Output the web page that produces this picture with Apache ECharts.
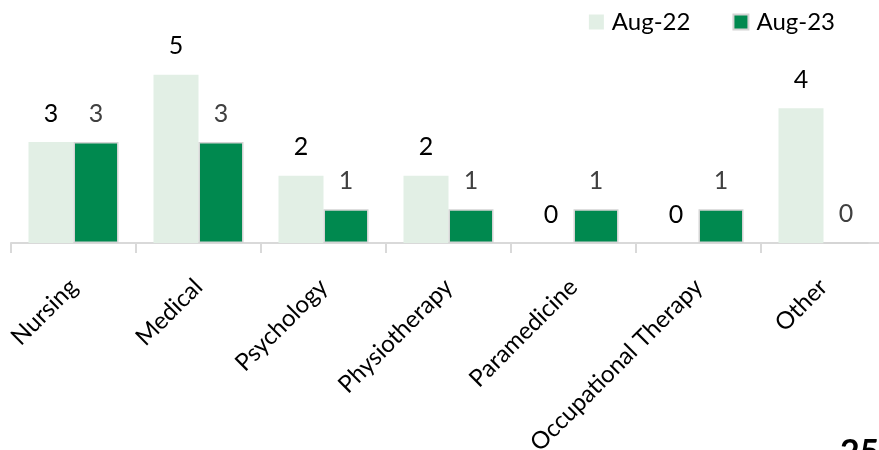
<!DOCTYPE html>
<html><head><meta charset="utf-8">
<script src="https://cdn.jsdelivr.net/npm/echarts@6/dist/echarts.min.js"></script>
<style>html,body{margin:0;padding:0;background:#fff}#c{width:879px;height:450px}</style>
</head><body><div id="c"></div>
<script>
const categories = ["Nursing", "Medical", "Psychology", "Physiotherapy", "Paramedicine", "Occupational Therapy", "Other"];
const aug22 = [3, 5, 2, 2, 0, 0, 4];
const aug23 = [3, 3, 1, 1, 1, 1, 0];
const seriesNames = ["Aug-22", "Aug-23"];
const pageNumber = "25";

const font = "Lato, 'Noto Sans', sans-serif";
const chart = echarts.init(document.getElementById('c'), null, {renderer: 'canvas'});
chart.setOption({
  animation: false,
  backgroundColor: '#fff',
  grid: {left: 11, width: 875, top: 41, height: 202, containLabel: false, outerBoundsMode: 'none'},
  legend: {
    data: seriesNames, right: 44, top: 10, padding: 0, itemWidth: 15, itemHeight: 15, itemGap: 42,
    textStyle: {fontFamily: font, fontSize: 24, color: '#000', padding: [0,0,0,3]},
    icon: 'rect'
  },
  xAxis: {
    type: 'category', data: categories,
    axisLine: {lineStyle: {color: '#d9d9d9', width: 2}},
    axisTick: {show: true, length: 10, lineStyle: {color: '#d9d9d9', width: 2}},
    axisLabel: {rotate: 45, interval: 0, fontFamily: font, fontSize: 24, color: '#000', margin: 40}
  },
  yAxis: {type: 'value', min: 0, max: 6, show: false, splitLine: {show: false}},
  series: [
    {name: seriesNames[0], type: 'bar', data: aug22, barGap: '0%', barCategoryGap: '28%',
     itemStyle: {color: '#e2efe5'},
     label: {show: true, position: 'top', distance: 16, fontFamily: font, fontSize: 25, color: '#000'}},
    {name: seriesNames[1], type: 'bar', data: aug23,
     itemStyle: {color: '#00894f', borderColor: '#d4d4d4', borderWidth: 1.5},
     label: {show: true, position: 'top', distance: 16, fontFamily: font, fontSize: 25, color: '#404040'}}
  ],
  graphic: [{type: 'text', left: 840, top: 436, style: {text: pageNumber, font: "bold 34px " + font, fill: '#000'}}]
});
</script></body></html>
